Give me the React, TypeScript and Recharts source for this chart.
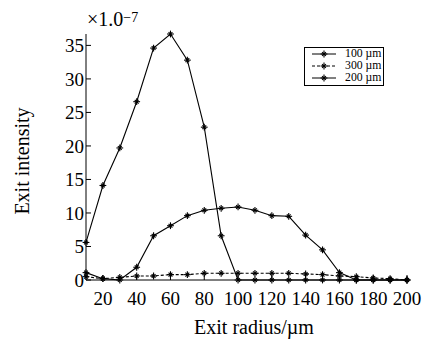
import { LineChart, Line, XAxis, YAxis, Legend, Label } from 'recharts';

const radius = [10, 20, 30, 40, 50, 60, 70, 80, 90, 100, 110, 120, 130, 140, 150, 160, 170, 180, 190, 200];
const s100 = [5.6, 14.1, 19.7, 26.6, 34.6, 36.7, 32.8, 22.8, 6.6, 0, 0, 0, 0, 0, 0, 0, 0, 0, 0, 0];
const s300 = [0.5, 0.2, 0.4, 0.6, 0.6, 0.8, 0.8, 1.0, 1.0, 1.0, 1.0, 1.0, 1.0, 0.9, 0.8, 0.6, 0.5, 0.3, 0.2, 0];
const s200 = [1.1, 0.2, 0, 1.9, 6.6, 8.1, 9.6, 10.4, 10.7, 10.9, 10.4, 9.6, 9.5, 6.7, 4.5, 1.1, 0, 0, 0, 0];
const xTicks = [20, 40, 60, 80, 100, 120, 140, 160, 180, 200];
const yTicks = [0, 5, 10, 15, 20, 25, 30, 35];

const data = radius.map((r, i) => ({ r, a: s100[i], b: s300[i], c: s200[i] }));

const series = [
  { key: 'a', name: '100 µm', dash: undefined as string | undefined },
  { key: 'b', name: '300 µm', dash: '3 2' },
  { key: 'c', name: '200 µm', dash: undefined as string | undefined },
];

const FONT = 'Liberation Serif';

function Star({ cx, cy }: { cx: number; cy: number }) {
  const r = 3.4;
  const d = r * 0.8;
  return (
    <g stroke="#000" strokeWidth={1.1}>
      <line x1={cx} y1={cy - r} x2={cx} y2={cy + r} />
      <line x1={cx - r} y1={cy} x2={cx + r} y2={cy} />
      <line x1={cx - d * 0.7} y1={cy - d * 0.7} x2={cx + d * 0.7} y2={cy + d * 0.7} />
      <line x1={cx - d * 0.7} y1={cy + d * 0.7} x2={cx + d * 0.7} y2={cy - d * 0.7} />
    </g>
  );
}

function LegendBox() {
  return (
    <div
      style={{
        border: '1px solid #000',
        background: '#fff',
        padding: '0px 5px 1px 6px',
        fontFamily: FONT,
        fontSize: 10.5,
      }}
    >
      {series.map((s) => (
        <div key={s.key} style={{ display: 'flex', alignItems: 'center', height: 12 }}>
          <svg width={26} height={10} style={{ marginRight: 8 }}>
            <line x1={1} y1={5} x2={25} y2={5} stroke="#000" strokeWidth={1} strokeDasharray={s.dash} />
            <Star cx={13} cy={5} />
          </svg>
          <span style={{ display: 'inline-block', lineHeight: '10px', height: 10, fontSize: 10.5, transform: 'scale(1.12, 1.1)', transformOrigin: 'left center' }}>
            {s.name}
          </span>
        </div>
      ))}
    </div>
  );
}

export default function App() {
  return (
    <div style={{ position: 'absolute', left: 0, top: 0, width: 431, height: 343, background: '#fff' }}>
      <LineChart width={431} height={343} data={data} margin={{ top: 34, right: 24, bottom: 0, left: 0 }}>
        <XAxis
          dataKey="r"
          type="number"
          domain={[10, 200]}
          ticks={xTicks}
          height={63}
          stroke="#000"
          tickSize={-5}
          tickMargin={17}
          tick={{ fontSize: 19, fill: '#000', fontFamily: FONT }}
        >
          <Label
            content={() => (
              <text x={254} y={334} textAnchor="middle" fontSize={20} fontFamily={FONT} fill="#000">
                Exit radius/µm
              </text>
            )}
          />
        </XAxis>
        <XAxis
          xAxisId="top"
          orientation="top"
          dataKey="r"
          type="number"
          domain={[10, 200]}
          ticks={xTicks}
          height={0}
          stroke="#000"
          tickSize={-5}
          tickFormatter={() => ''}
        />
        <YAxis
          domain={[0, 36.7]}
          ticks={yTicks}
          width={86}
          stroke="#000"
          tickSize={-5}
          tickMargin={7}
          tick={{ fontSize: 19, fill: '#000', fontFamily: FONT }}
        >
          <Label
            content={() => (
              <g>
                <text
                  x={29}
                  y={161}
                  transform="rotate(-90, 29, 161)"
                  textAnchor="middle"
                  fontSize={20}
                  fontFamily={FONT}
                  fill="#000"
                >
                  Exit intensity
                </text>
                <text x={87} y={26} fontSize={20} fontFamily={FONT} fill="#000">
                  ×1.0
                  <tspan dy={-4} fontSize={14}>
                    −7
                  </tspan>
                </text>
              </g>
            )}
          />
        </YAxis>
        <YAxis
          yAxisId="right"
          orientation="right"
          domain={[0, 36.7]}
          ticks={yTicks}
          width={0}
          stroke="#000"
          tickSize={-5}
          tickFormatter={() => ''}
        />
        <Legend
          layout="horizontal"
          verticalAlign="middle"
          align="center"
          wrapperStyle={{ left: 304, top: 47, width: 'auto', height: 'auto' }}
          content={() => <LegendBox />}
        />
        {series.map((s) => (
          <Line
            key={s.key}
            dataKey={s.key}
            name={s.name}
            stroke="#000"
            strokeWidth={1.1}
            strokeDasharray={s.dash}
            isAnimationActive={false}
            dot={(p: any) => <Star key={`${s.key}-${p.index}`} cx={p.cx} cy={p.cy} />}
            activeDot={false}
          />
        ))}
      </LineChart>
    </div>
  );
}
